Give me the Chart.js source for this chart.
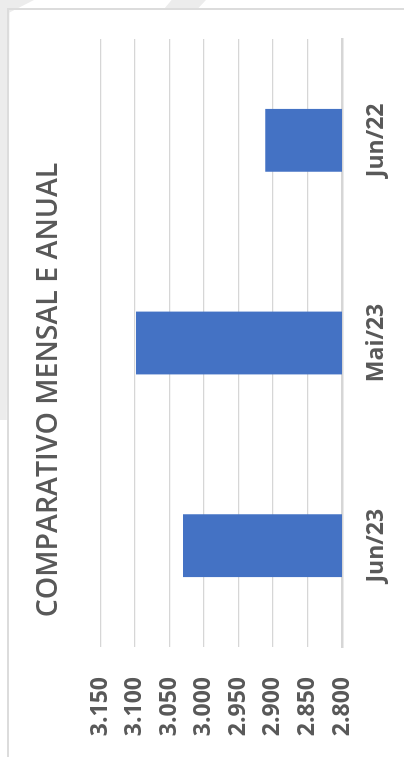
<!DOCTYPE html>
<html lang="pt-BR">
<head>
<meta charset="utf-8">
<title>Comparativo mensal e anual</title>
<script src="https://cdn.jsdelivr.net/npm/chart.js@4.4.1/dist/chart.umd.min.js"></script>
<style>
  html, body { margin: 0; padding: 0; background: #ffffff; }
  body { width: 404px; height: 757px; position: relative; overflow: hidden; }
  .frame { position: absolute; left: 7px; top: 8px; right: -2px; bottom: -2px;
           border-left: 2px solid #dcdcdc; border-top: 2px solid #dcdcdc; }
  .shade-a { position: absolute; left: 0; top: 0; width: 34px; height: 420px; background: #ececec;
             clip-path: polygon(0 0, 100% 0, 28% 3%, 20% 100%, 0 100%); }
  .shade-b { position: absolute; left: 164px; top: 0; width: 42px; height: 9px; background: #ececec;
             clip-path: polygon(18% 0, 100% 0, 80% 100%, 0 100%); }
  /* the chart is laid out as a column chart and turned a quarter turn */
  #chart { position: absolute; left: 0; top: 0; width: 757px; height: 404px;
           transform-origin: 0 0; transform: translateY(757px) rotate(-90deg); }
</style>
</head>
<body>
<div class="shade-a"></div>
<div class="shade-b"></div>
<div class="frame"></div>
<canvas id="chart" width="757" height="404"></canvas>
<script>
const titleText = 'COMPARATIVO MENSAL E ANUAL';
const categories = ['Jun/23', 'Mai/23', 'Jun/22'];
const values = [3030, 3098, 2911];
const axisMin = 2800;
const axisMax = 3150;
const axisStep = 50;

const textGray = '#595959';
const gridGray = '#d6d6d6';
const barBlue = '#4472C4';

// thousands with a dot, as in pt-BR
function fmt(v) {
  return Math.round(v).toString().replace(/\B(?=(\d{3})+(?!\d))/g, '.');
}

new Chart(document.getElementById('chart'), {
  type: 'bar',
  data: {
    labels: categories,
    datasets: [{
      data: values,
      backgroundColor: barBlue,
      borderWidth: 0,
      barPercentage: 0.31,
      categoryPercentage: 1
    }]
  },
  options: {
    responsive: false,
    animation: false,
    devicePixelRatio: 1,
    layout: { padding: { left: 16, right: 39, top: 0, bottom: 0 } },
    plugins: {
      legend: { display: false },
      tooltip: { enabled: false },
      title: {
        display: true,
        text: titleText,
        color: textGray,
        font: { family: '"Open Sans", sans-serif', size: 28.5, weight: '600' },
        padding: { top: 32, bottom: 34 }
      }
    },
    scales: {
      x: {
        grid: { display: false, drawTicks: false },
        border: { display: true, color: gridGray, width: 2.5 },
        ticks: {
          color: textGray,
          padding: 21,
          maxRotation: 0,
          font: { family: '"Open Sans", sans-serif', size: 23, weight: 'bold' }
        },
        afterFit: s => { s.height = 62; }
      },
      y: {
        min: axisMin,
        max: axisMax,
        grid: { color: gridGray, lineWidth: 1.3, drawTicks: false },
        border: { display: false },
        ticks: {
          stepSize: axisStep,
          color: textGray,
          padding: 30,
          font: { family: '"Open Sans", sans-serif', size: 23, weight: 'bold' },
          callback: v => fmt(v)
        },
        afterFit: s => { s.width = 94; }
      }
    }
  }
});
</script>
</body>
</html>
